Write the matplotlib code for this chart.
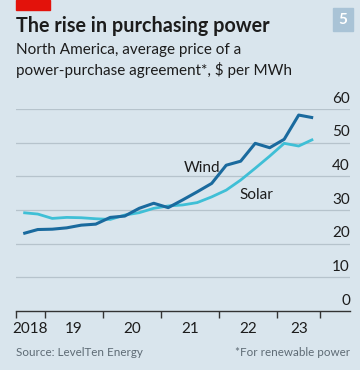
import matplotlib.pyplot as plt
import matplotlib.transforms as mtransforms
import pandas as pd
from matplotlib.patches import Rectangle

# quarterly data, Q3 2018 to Q3 2023, $ per MWh
quarters = pd.period_range("2018Q3", "2023Q3", freq="Q")
wind = [23.0, 24.2, 24.3, 24.7, 25.5, 25.8, 27.8, 28.2, 30.5, 32.0, 30.7,
        33.0, 35.4, 37.9, 43.3, 44.5, 49.8, 48.5, 51.0, 58.2, 57.4]
solar = [29.2, 28.8, 27.5, 27.8, 27.7, 27.4, 27.2, 28.5, 29.2, 30.5, 31.2,
         31.5, 32.2, 33.9, 35.9, 38.9, 42.4, 46.0, 49.8, 49.0, 51.0]
yticks = [0, 10, 20, 30, 40, 50, 60]
year_ticks = [2018.5, 2019, 2020, 2021, 2022, 2023, 2023.75]
year_labels = ["2018", "19", "20", "21", "22", "23"]

BG = "#d9e5ed"
WIND_C = "#1a6a9e"
SOLAR_C = "#3fbfd6"
GRID_C = "#b6c3cc"
TEXT_C = "#1c1c1c"
GREY_C = "#5e6b75"
FONT = "Lato"

# quarter midpoints as decimal years
x = [q.year + (q.quarter - 1) * 0.25 + 0.125 for q in quarters]

fig = plt.figure(figsize=(3.6, 3.7), dpi=100)
fig.patch.set_facecolor(BG)
ax = fig.add_axes([16 / 360, 1 - 311 / 370, 334 / 360, 202 / 370])
ax.set_facecolor(BG)

ax.plot(x, solar, color=SOLAR_C, lw=2.0, solid_capstyle="butt", zorder=3)
ax.plot(x, wind, color=WIND_C, lw=2.2, solid_capstyle="butt", zorder=4)

ax.set_xlim(2018.5, 2024.26)
ax.set_ylim(0, 60)

for v in yticks:
    if v > 0:
        ax.axhline(v, color=GRID_C, lw=0.9, zorder=1)
    ax.text(1.0, v + 1.0, str(v), transform=mtransforms.blended_transform_factory(ax.transAxes, ax.transData),
            ha="right", va="bottom", fontsize=11, color=TEXT_C, family=FONT)

for s in ["top", "right", "left"]:
    ax.spines[s].set_visible(False)
ax.spines["bottom"].set_color("#333333")
ax.spines["bottom"].set_linewidth(1.0)
ax.set_yticks([])

ax.set_xticks(year_ticks)
ax.set_xticklabels([])
ax.tick_params(axis="x", which="major", length=5, width=1.0, color="#333333")
mids = [(a + b) / 2 for a, b in zip(year_ticks[:-1], year_ticks[1:])]
ax.set_xticks(mids, minor=True)
ax.set_xticklabels(year_labels, minor=True, fontsize=11, color=TEXT_C, family=FONT)
ax.tick_params(axis="x", which="minor", length=0, pad=8)

ax.text(2021.71, 42.5, "Wind", fontsize=11, color=TEXT_C, family=FONT, ha="center", va="center")
ax.text(2022.65, 34.4, "Solar", fontsize=11, color=TEXT_C, family=FONT, ha="center", va="center")

# header
fig.patches.append(Rectangle((16 / 360, 1 - 10 / 370), 34 / 360, 10 / 370,
                             transform=fig.transFigure, color="#e3120b"))
fig.patches.append(Rectangle((333 / 360, 1 - 31 / 370), 20 / 360, 23 / 370,
                             transform=fig.transFigure, color="#a9c3d6"))
fig.text(343 / 360, 1 - 19.5 / 370, "5", ha="center", va="center", color="white",
         fontsize=11, fontweight="bold", family=FONT)
fig.text(16 / 360, 1 - 26 / 370, "The rise in purchasing power", ha="left", va="center",
         fontsize=14.2, fontweight="bold", color=TEXT_C, family=FONT)
fig.text(16 / 360, 1 - 50 / 370, "North America, average price of a", ha="left", va="center",
         fontsize=11, color=TEXT_C, family=FONT)
fig.text(16 / 360, 1 - 70 / 370, "power-purchase agreement*, $ per MWh", ha="left", va="center",
         fontsize=11, color=TEXT_C, family=FONT)

# footer
fig.text(16 / 360, 1 - 353 / 370, "Source: LevelTen Energy", ha="left", va="center",
         fontsize=8.4, color=GREY_C, family=FONT)
fig.text(350 / 360, 1 - 353 / 370, "*For renewable power", ha="right", va="center",
         fontsize=8.4, color=GREY_C, family=FONT)

fig.savefig("out.png", dpi=100, facecolor=BG)
